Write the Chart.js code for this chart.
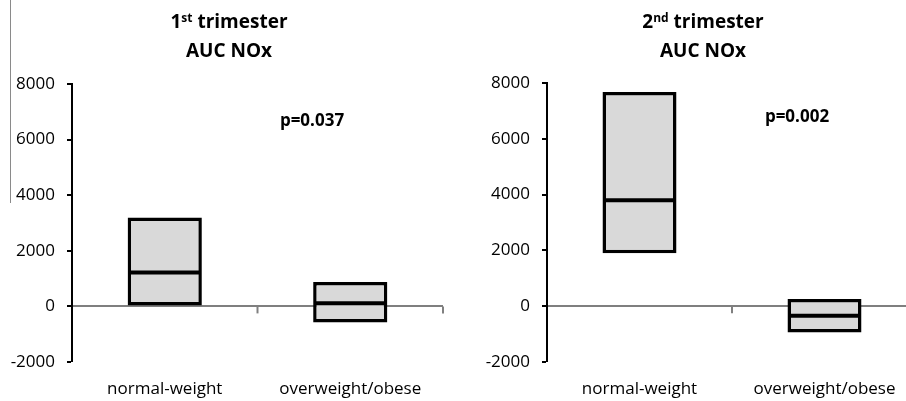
<!DOCTYPE html>
<html>
<head>
<meta charset="utf-8">
<script src="https://cdn.jsdelivr.net/npm/chart.js@4.4.0/dist/chart.umd.min.js"></script>
<style>
  html, body { margin:0; padding:0; background:#fff; width:906px; height:401px; overflow:hidden; position:relative; font-family:"Open Sans", sans-serif; }
  .wrap { position:absolute; top:0; }
  .title { position:absolute; width:300px; text-align:center; font-weight:bold; font-size:19px; line-height:27px; color:#000; }
  .title sup { font-size:12px; vertical-align:0; position:relative; top:-6px; }
  .pval { position:absolute; width:120px; text-align:center; font-weight:bold; font-size:17px; line-height:22px; color:#000; }
  .edge { position:absolute; left:10px; top:0; width:1px; height:203px; background:#8a8a8a; }
</style>
</head>
<body>
<div class="edge"></div>
<div class="wrap" style="left:0px;width:453px;height:401px;"><canvas id="c1" width="453" height="401"></canvas></div>
<div class="wrap" style="left:453px;width:470px;height:401px;"><canvas id="c2" width="470" height="401"></canvas></div>
<div class="title" style="left:79px;top:8px;">1<sup>st</sup> trimester<br>AUC NOx</div>
<div class="title" style="left:553px;top:8px;">2<sup>nd</sup> trimester<br>AUC NOx</div>
<div class="pval" style="left:252px;top:109px;">p=0.037</div>
<div class="pval" style="left:737px;top:105px;">p=0.002</div>
<script>
const categories = ["normal-weight", "overweight/obese"];
const yTicks = [-2000, 0, 2000, 4000, 6000, 8000];
// 1st trimester: quartile box (Q1, Q3) and median
const t1Q1 = [0, -580];
const t1Q3 = [3200, 880];
const t1Median = [1220, 110];
// 2nd trimester
const t2Q1 = [1900, -940];
const t2Q3 = [7680, 260];
const t2Median = [3800, -340];

const medianPlugin = {
  id: 'medianLines',
  afterDatasetsDraw(chart, args, opts) {
    const ctx = chart.ctx;
    const y = chart.scales.y;
    const meta = chart.getDatasetMeta(0);
    ctx.save();
    ctx.strokeStyle = '#000';
    ctx.lineWidth = 4;
    meta.data.forEach((bar, i) => {
      const py = y.getPixelForValue(opts.medians[i]);
      ctx.beginPath();
      ctx.moveTo(bar.x - bar.width / 2 + 1, py);
      ctx.lineTo(bar.x + bar.width / 2 - 1, py);
      ctx.stroke();
    });
    ctx.restore();
  }
};

const sepTicksPlugin = {
  id: 'sepTicks',
  beforeDatasetsDraw(chart) {
    const ctx = chart.ctx;
    const x = chart.scales.x;
    const y0 = chart.scales.y.getPixelForValue(0);
    ctx.save();
    ctx.strokeStyle = '#808080';
    ctx.lineWidth = 2;
    for (let i = 0; i < categories.length; i++) {
      const px = x.getPixelForValue(i + 0.5);
      ctx.beginPath();
      ctx.moveTo(px, y0);
      ctx.lineTo(px, y0 + 7);
      ctx.stroke();
    }
    ctx.restore();
  }
};

function makeChart(id, q1, q3, med, axisWidth, padLeft, padRight, padTop) {
  return new Chart(document.getElementById(id), {
    type: 'bar',
    data: {
      labels: categories,
      datasets: [{
        data: q1.map((v, i) => [v, q3[i]]),
        backgroundColor: '#d9d9d9',
        borderColor: '#000',
        borderWidth: 3.5,
        borderSkipped: false,
        barPercentage: 0.4,
        categoryPercentage: 1.0
      }]
    },
    options: {
      responsive: false,
      animation: false,
      devicePixelRatio: 1,
      layout: { padding: { left: padLeft, right: padRight, top: padTop, bottom: 0 } },
      plugins: {
        legend: { display: false },
        tooltip: { enabled: false },
        title: { display: false },
        medianLines: { medians: med }
      },
      scales: {
        x: {
          grid: { display: false, drawTicks: false },
          border: { display: false },
          ticks: { color: '#000', font: { family: 'Open Sans', size: 17 }, padding: 17, maxRotation: 0 },
          afterFit(scale) { scale.height = 39; }
        },
        y: {
          min: -2000, max: 8000,
          afterBuildTicks(scale) { scale.ticks = yTicks.map(v => ({ value: v })); },
          grid: {
            drawOnChartArea: true,
            color: (c) => (c.tick && c.tick.value === 0) ? '#7f7f7f' : 'rgba(0,0,0,0)',
            lineWidth: (c) => (c.tick && c.tick.value === 0) ? 2 : 0,
            drawTicks: true,
            tickLength: 5,
            tickColor: '#000',
            tickWidth: 2
          },
          border: { display: true, color: '#000', width: 2 },
          ticks: { color: '#000', font: { family: 'Open Sans', size: 17 }, padding: 12, callback: (v) => String(v) },
          afterFit(scale) { scale.width = axisWidth; }
        }
      }
    },
    plugins: [medianPlugin, sepTicksPlugin]
  });
}

makeChart('c1', t1Q1, t1Q3, t1Median, 72, 0, 10, 84);
makeChart('c2', t2Q1, t2Q3, t2Median, 94, 0, 6, 83);
</script>
</body>
</html>
